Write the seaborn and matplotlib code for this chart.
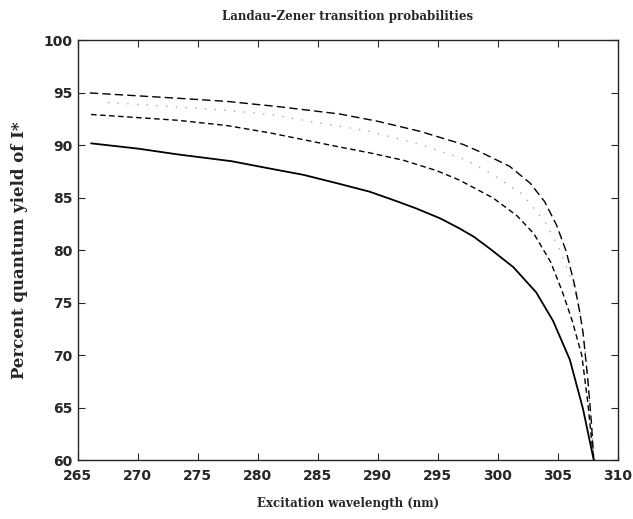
import pandas as pd
import matplotlib
matplotlib.use("Agg")
import matplotlib.pyplot as plt
import seaborn as sns

# ==========================================
# Dados (comprimento de onda em nm, rendimento em %)
# ==========================================
x_solid = [266.1, 270, 273.3, 277.8, 281, 283.8, 286.6, 289.3, 291.3, 293.2,
           295.2, 296.8, 298, 299.3, 301.3, 303.2, 304.6, 306.0, 307.1, 308.0]
y_solid = [90.2, 89.7, 89.15, 88.5, 87.8, 87.2, 86.4, 85.6, 84.8, 84.0,
           83.05, 82.1, 81.3, 80.2, 78.4, 76.0, 73.3, 69.6, 64.9, 60.0]

x_dash = [266.1, 273.3, 277.4, 281, 283.8, 286.6, 289.3, 292.1, 294.9,
          296.8, 299.6, 301.6, 303.0, 304.4, 305.4, 306.2, 307.0, 307.5,
          307.9, 308.0]
y_dash = [92.95, 92.4, 91.9, 91.2, 90.55, 89.9, 89.3, 88.6, 87.6,
          86.7, 85.0, 83.3, 81.6, 78.9, 76.0, 73.3, 70.0, 65.5,
          61.0, 60.0]

x_dot = [267.5, 276.8, 281.1, 284.3, 289.1, 293.5, 297.4, 299.6, 302.0,
         304.0, 305.2, 306.1, 306.8, 307.4, 307.9, 308.0]
y_dot = [94.1, 93.4, 92.95, 92.3, 91.4, 90.1, 88.6, 87.2, 85.4,
         82.6, 80.0, 77.3, 74.5, 69.4, 62.0, 60.0]

x_long = [266, 273.3, 277.4, 281.7, 286.8, 290, 293.5, 297.1, 298.5, 301,
          302.7, 303.9, 304.9, 305.7, 306.4, 306.8, 307.1, 307.5, 307.8, 308.0]
y_long = [95.0, 94.5, 94.2, 93.7, 93.0, 92.3, 91.35, 90.1, 89.4, 88.0,
          86.4, 84.65, 82.4, 79.9, 76.7, 74.3, 72.2, 67.7, 63.6, 60.0]

curvas = [
    (x_solid, y_solid, "-", "black", 1.3),
    (x_dash, y_dash, (0, (4, 2.5)), "black", 1.0),
    (x_dot, y_dot, (0, (1, 6)), "#a8a8a8", 1.0),
    (x_long, y_long, (0, (6, 3)), "black", 1.0),
]

# ==========================================
# Gráfico
# ==========================================
sns.set_style("ticks")
fig = plt.figure(figsize=(6.33, 5.19), dpi=100)
ax = fig.add_axes([0.123, 0.113, 0.853, 0.809])

for xs, ys, ls, cor, lw in curvas:
    df = pd.DataFrame({"x": xs, "y": ys})
    sns.lineplot(data=df, x="x", y="y", ax=ax, color=cor,
                 linestyle=ls, linewidth=lw)

ax.set_xlim(265, 310)
ax.set_ylim(60, 100)
ax.set_xticks(range(265, 311, 5))
ax.set_yticks(range(60, 101, 5))
ax.tick_params(direction="in", top=True, right=True, length=5,
               width=0.8, labelsize=10, pad=4)
ax.tick_params(axis="x", pad=6)
for lab in ax.get_xticklabels() + ax.get_yticklabels():
    lab.set_fontweight("bold")
for s in ax.spines.values():
    s.set_linewidth(1.0)

ax.set_title("Landau\u2013Zener transition probabilities", family="DejaVu Serif",
             fontsize=8.5, fontweight="bold", pad=15)
ax.set_xlabel("Excitation wavelength (nm)", family="DejaVu Serif",
              fontsize=8.5, fontweight="bold", labelpad=10)
ax.set_ylabel("Percent quantum yield of I*", family="DejaVu Serif",
              fontsize=12, fontweight="bold", labelpad=11)

fig.savefig("out.png", dpi=100)
